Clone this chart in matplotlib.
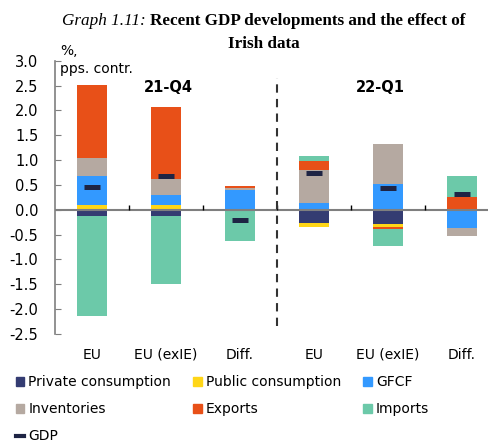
import matplotlib.pyplot as plt
import numpy as np
from matplotlib.patches import Patch
from matplotlib.lines import Line2D

# bars: 21-Q4 EU, EU (exIE), Diff. | 22-Q1 EU, EU (exIE), Diff.
labels = ["EU", "EU (exIE)", "Diff.", "EU", "EU (exIE)", "Diff."]
quarters = ["21-Q4", "22-Q1"]

private = [-0.12, -0.12, 0.00, -0.27, -0.28, 0.00]
public = [0.10, 0.10, 0.00, -0.07, -0.06, 0.00]
gfcf = [0.57, 0.19, 0.39, 0.14, 0.52, -0.37]
inventories = [0.38, 0.33, 0.05, 0.66, 0.80, -0.15]
exports = [1.47, 1.44, 0.03, 0.19, -0.04, 0.25]
imports = [-2.01, -1.38, -0.62, 0.10, -0.35, 0.43]
gdp = [0.46, 0.67, -0.21, 0.74, 0.43, 0.31]

series = [
    ("Private consumption", private, "#343c72"),
    ("Public consumption", public, "#ffd617"),
    ("GFCF", gfcf, "#3399ff"),
    ("Inventories", inventories, "#b5a9a1"),
    ("Exports", exports, "#e85018"),
    ("Imports", imports, "#6cc9a9"),
]
gdp_color = "#1e2444"

plt.rcParams['font.family'] = ['DejaVu Sans']
fig = plt.figure(figsize=(4.89, 4.43), dpi=100)
ax = fig.add_axes([0.1125, 0.246, 0.908, 0.617])

x = np.arange(len(labels))
pos_base = np.zeros(len(labels))
neg_base = np.zeros(len(labels))
for name, vals, col in series:
    v = np.array(vals)
    bottom = np.where(v >= 0, pos_base, neg_base)
    ax.bar(x, v, width=0.4, bottom=bottom, color=col, edgecolor='none', zorder=2)
    pos_base = pos_base + np.where(v > 0, v, 0)
    neg_base = neg_base + np.where(v < 0, v, 0)

ax.plot(x, gdp, linestyle='none', marker='_', markersize=12, markeredgewidth=3.6,
        color=gdp_color, zorder=4)

ax.axhline(0, color='#7f7f7f', lw=1.5, zorder=3)
bounds = np.arange(0.5, len(labels), 1.0)
ax.vlines(bounds, 0, 0.09, color='black', lw=1, zorder=3)
ax.vlines(2.5, -2.33, 2.65, color='#333333', lw=1.5, linestyles=(0, (4, 3)), zorder=3)

ax.set_xlim(-0.5, 5.5)
ax.set_ylim(-2.5, 3.0)
ax.set_yticks(np.arange(-2.5, 3.01, 0.5))
ax.set_yticklabels([f"{v:.1f}" for v in np.arange(-2.5, 3.01, 0.5)], fontsize=10.5)
ax.set_xticks(x)
ax.set_xticklabels(labels, fontsize=10)
ax.tick_params(axis='x', length=0, pad=10)
ax.tick_params(axis='y', direction='in', length=4, color='#7f7f7f', pad=12)
for s in ['top', 'right', 'bottom']:
    ax.spines[s].set_visible(False)
ax.spines['left'].set_color('#7f7f7f')
ax.spines['left'].set_linewidth(1.2)

ax.text(0.012, 1.06, "%,\npps. contr.", transform=ax.transAxes, fontsize=10,
        va='top', ha='left', linespacing=1.35)
ax.text(1.03, 2.47, quarters[0], fontsize=10.5, fontweight='bold', ha='center', va='center')
ax.text(3.9, 2.47, quarters[1], fontsize=10.5, fontweight='bold', ha='center', va='center')

# title: italic prefix + bold text, centred as one line
t1 = fig.text(0, 0.953, "Graph 1.11:", family='Liberation Serif', style='italic',
              fontsize=12.3, ha='left', va='center')
t2 = fig.text(0, 0.953, "Recent GDP developments and the effect of", family='Liberation Serif',
              fontweight='bold', fontsize=12.3, ha='left', va='center')
fig.canvas.draw()
r = fig.canvas.get_renderer()
W = fig.bbox.width
w1 = t1.get_window_extent(r).width / W
w2 = t2.get_window_extent(r).width / W
gap = 4 / W
start = 264 / W - (w1 + gap + w2) / 2
t1.set_x(start)
t2.set_x(start + w1 + gap)
fig.text(264 / W, 0.901, "Irish data", family='Liberation Serif', fontweight='bold',
         fontsize=12.3, ha='center', va='center')

handles = [Patch(color=c) for _, _, c in series]
names = [n for n, _, _ in series]
gdp_handle = Line2D([], [], color=gdp_color, lw=3)
order_h = [handles[0], handles[3], gdp_handle, handles[1], handles[4], handles[2], handles[5]]
order_n = [names[0], names[3], "GDP", names[1], names[4], names[2], names[5]]
fig.legend(order_h, order_n, ncol=3, loc='upper left', bbox_to_anchor=(0.021, 0.166),
           frameon=False, fontsize=10, handlelength=0.6, handleheight=0.6,
           handletextpad=0.3, columnspacing=1.6, labelspacing=0.95, borderaxespad=0)

fig.savefig("out.png", dpi=100)
